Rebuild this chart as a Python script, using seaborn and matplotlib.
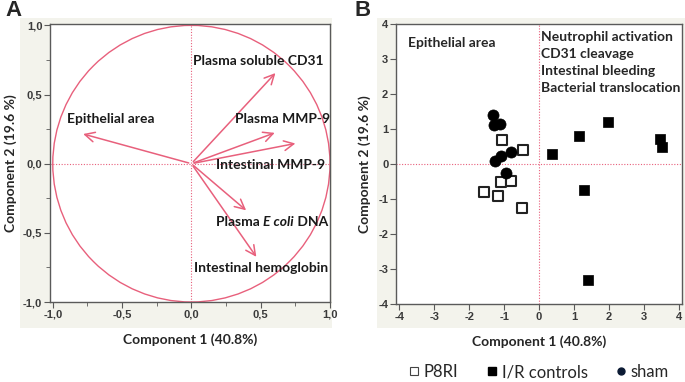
import numpy as np
import pandas as pd
import matplotlib
matplotlib.use('Agg')
import matplotlib.pyplot as plt
import seaborn as sns
from matplotlib.patches import Circle
from matplotlib.lines import Line2D
from matplotlib.ticker import MultipleLocator, FuncFormatter

# Panel A: loadings
loading_names = ['Plasma soluble CD31', 'Plasma MMP-9', 'Intestinal MMP-9',
                 'Epithelial area', 'Plasma E coli DNA', 'Intestinal hemoglobin']
loading_pc1 = [0.62, 0.62, 0.77, -0.80, 0.41, 0.48]
loading_pc2 = [0.67, 0.23, 0.15, 0.22, -0.35, -0.69]

# Panel B: scores
p8ri_pc1 = [-1.06, -0.47, -1.09, -0.81, -1.57, -1.17, -0.50]
p8ri_pc2 = [0.69, 0.41, -0.52, -0.48, -0.79, -0.91, -1.27]
ir_pc1 = [0.37, 1.14, 1.97, 3.46, 3.53, 1.29, 1.40]
ir_pc2 = [0.29, 0.81, 1.19, 0.71, 0.49, -0.74, -3.31]
sham_pc1 = [-1.33, -1.29, -1.12, -1.27, -1.10, -0.79, -0.95]
sham_pc2 = [1.40, 1.11, 1.14, 0.10, 0.22, 0.35, -0.26]

sns.set_style('white')
plt.rcParams['font.family'] = ['Lato', 'DejaVu Sans']

pink = '#e8607c'
frame = '#5a5a5a'
bold = dict(fontweight='bold', family='Lato')
fs = 10

fig = plt.figure(figsize=(6.85, 3.82), dpi=100)
fig.patch.set_facecolor('white')
W, H = 685, 382

def fx(px):
    return px / W

def fy(py):
    return 1 - py / H

# grey backdrop behind each plot (an empty axes at the back)
for x0, x1 in [(20, 332), (377, 685)]:
    bg = fig.add_axes([fx(x0), fy(328), fx(x1 - x0), (328 - 18) / H], zorder=-5)
    bg.set_facecolor('#f3f3ec')
    bg.set_xticks([])
    bg.set_yticks([])
    for s in bg.spines.values():
        s.set_visible(False)

axA = fig.add_axes([fx(50), fy(302), fx(330 - 50), (302 - 24) / H])
axB = fig.add_axes([fx(396), fy(304), fx(682 - 396), (304 - 24) / H])

comma = FuncFormatter(lambda v, p: f'{v:.1f}'.replace('.', ','))
for ax in (axA, axB):
    ax.set_facecolor('white')
    for s in ax.spines.values():
        s.set_color(frame)
        s.set_linewidth(1.0)
    ax.tick_params(axis='both', which='both', direction='out', color=frame,
                   labelsize=8, pad=1.5, left=True, bottom=True)
    ax.tick_params(which='major', length=4)
    ax.tick_params(which='minor', length=3)

# ---- Panel A ----
axA.set_xlim(-1.02, 1.0)
axA.set_ylim(-1.0, 1.01)
axA.xaxis.set_major_locator(MultipleLocator(0.5))
axA.yaxis.set_major_locator(MultipleLocator(0.5))
axA.xaxis.set_minor_locator(MultipleLocator(0.25))
axA.yaxis.set_minor_locator(MultipleLocator(0.25))
axA.xaxis.set_major_formatter(comma)
axA.yaxis.set_major_formatter(comma)
axA.add_patch(Circle((0, 0), 1.0, fill=False, edgecolor=pink, lw=1.0))
axA.axhline(0, color=pink, lw=0.8, ls=(0, (1, 1.5)))
axA.axvline(0, color=pink, lw=0.8, ls=(0, (1, 1.5)))
for x, y in zip(loading_pc1, loading_pc2):
    axA.annotate('', xy=(x, y), xytext=(0, 0),
                 arrowprops=dict(arrowstyle='->,head_length=0.7,head_width=0.35',
                                 color=pink, lw=1.1))

label_pos = [(0.95, 0.74, 'right'), (1.0, 0.32, 'right'), (0.965, -0.01, 'right'),
             (-0.90, 0.32, 'left'), (0.985, -0.42, 'right'), (0.985, -0.755, 'right')]
for name, (x, y, ha) in zip(loading_names, label_pos):
    if 'E coli' in name:
        # the species name is set in italics
        t = axA.text(x, y, ' DNA', ha='right', va='center', fontsize=fs, color='#1a1a1a', **bold)
        t = axA.annotate('E coli', xy=(0, 0.5), xycoords=t, ha='right', va='center',
                         fontsize=fs, color='#1a1a1a', fontstyle='italic', **bold)
        axA.annotate('Plasma ', xy=(0, 0.5), xycoords=t, ha='right', va='center',
                     fontsize=fs, color='#1a1a1a', **bold)
    else:
        axA.text(x, y, name, ha=ha, va='center', fontsize=fs, color='#1a1a1a', **bold)

axA.set_xlabel('Component 1 (40.8%)', fontsize=fs, labelpad=10, **bold)
axA.set_ylabel('Component 2 (19.6 %)', fontsize=fs, labelpad=4, **bold)

# ---- Panel B ----
scores = pd.DataFrame({
    'pc1': p8ri_pc1 + ir_pc1 + sham_pc1,
    'pc2': p8ri_pc2 + ir_pc2 + sham_pc2,
    'group': ['P8RI'] * len(p8ri_pc1) + ['I/R controls'] * len(ir_pc1) + ['sham'] * len(sham_pc1),
})
axB.axhline(0, color=pink, lw=0.8, ls=(0, (1, 1.5)), zorder=1)
axB.axvline(0, color=pink, lw=0.8, ls=(0, (1, 1.5)), zorder=1)
sns.scatterplot(data=scores[scores.group == 'P8RI'], x='pc1', y='pc2', ax=axB,
                marker='s', s=48, facecolor='white', edgecolor='#222222', linewidth=1.5,
                legend=False, zorder=3)
sns.scatterplot(data=scores[scores.group == 'I/R controls'], x='pc1', y='pc2', ax=axB,
                marker='s', s=48, color='black', edgecolor='black', linewidth=0.5,
                legend=False, zorder=3)
sns.scatterplot(data=scores[scores.group == 'sham'], x='pc1', y='pc2', ax=axB,
                marker='o', s=64, color='black', edgecolor='black', linewidth=0.5,
                legend=False, zorder=4)
axB.set_xlim(-4.1, 4.1)
axB.set_ylim(-4, 4)
axB.xaxis.set_major_locator(MultipleLocator(1))
axB.yaxis.set_major_locator(MultipleLocator(1))
axB.xaxis.set_major_formatter(FuncFormatter(lambda v, p: f'{int(round(v))}'))
axB.yaxis.set_major_formatter(FuncFormatter(lambda v, p: f'{int(round(v))}'))
axB.text(-3.77, 3.45, 'Epithelial area', ha='left', va='center', fontsize=fs, **bold)
axB.text(0.05, 3.8, 'Neutrophil activation\nCD31 cleavage\nIntestinal bleeding\nBacterial translocation',
         ha='left', va='top', fontsize=fs, linespacing=1.5, **bold)
axB.set_xlabel('Component 1 (40.8%)', fontsize=fs, labelpad=10, **bold)
axB.set_ylabel('Component 2 (19.6 %)', fontsize=fs, labelpad=5, **bold)

for ax in (axA, axB):
    for lab in ax.get_xticklabels() + ax.get_yticklabels():
        lab.set_family('Liberation Sans')
        lab.set_fontweight('bold')
        lab.set_color('#3a3a3a')

fig.text(fx(5), fy(11), 'A', fontsize=16, fontweight='bold', family='Liberation Sans', va='center')
fig.text(fx(355), fy(11), 'B', fontsize=16, fontweight='bold', family='Liberation Sans', va='center')

handles = [
    Line2D([], [], ls='none', marker='s', ms=6, mfc='white', mec='#444444', mew=0.8),
    Line2D([], [], ls='none', marker='s', ms=6, mfc='black', mec='black'),
    Line2D([], [], ls='none', marker='o', ms=5, mfc='#0b1a33', mec='#0b1a33'),
]
fig.legend(handles, ['P8RI', 'I/R controls', 'sham'], loc='center',
           bbox_to_anchor=(fx(538), fy(372)), ncol=3, frameon=False,
           handletextpad=0.2, columnspacing=1.6, handlelength=0.8,
           prop={'family': 'Lato', 'size': 12})

fig.savefig('out.png', dpi=100)
